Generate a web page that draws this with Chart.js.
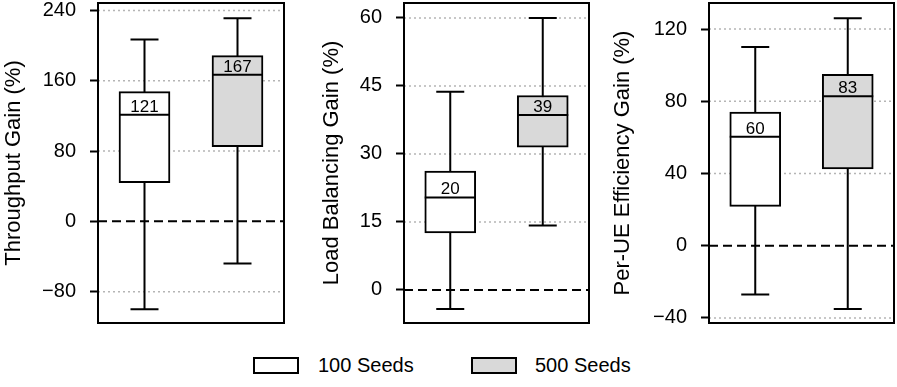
<!DOCTYPE html>
<html>
<head>
<meta charset="utf-8">
<script src="https://cdn.jsdelivr.net/npm/chart.js@4.4.0/dist/chart.umd.min.js"></script>
<style>
  body { margin: 0; width: 897px; height: 387px; background: #fff; position: relative; overflow: hidden;
         font-family: "Liberation Sans", Arial, sans-serif; }
  .panel { position: absolute; top: 0; height: 326px; }
  .swatch { position: absolute; top: 357px; width: 46px; height: 17px; box-sizing: border-box; border: 2px solid #000; }
  .label { position: absolute; top: 354px; font-size: 20px; line-height: 22px; color: #000; white-space: nowrap; }
</style>
</head>
<body>
<div class="panel" style="left:0;width:286px"><canvas id="throughput"></canvas></div>
<div class="panel" style="left:318px;width:273px"><canvas id="loadBalancing"></canvas></div>
<div class="panel" style="left:609px;width:287px"><canvas id="efficiency"></canvas></div>

<div class="swatch" style="left:253px;background:#ffffff"></div>
<span class="label" style="left:318px">100 Seeds</span>
<div class="swatch" style="left:471px;background:#d9d9d9"></div>
<span class="label" style="left:535px">500 Seeds</span>

<script>
// groups (one box per group in each panel)
const seedGroups = ['100 Seeds', '500 Seeds'];
const boxColors = ['#ffffff', '#d9d9d9'];

// Throughput Gain (%)
const throughputMin = [-100, -48];
const throughputQ1 = [44, 85];
const throughputMedian = [121.3, 166.7];
const throughputQ3 = [147.5, 188.5];
const throughputMax = [207, 231];
const throughputTicks = [-80, 0, 80, 160, 240];

// Load Balancing Gain (%)
const loadMin = [-4.2, 14.2];
const loadQ1 = [12.6, 31.5];
const loadMedian = [20.4, 38.6];
const loadQ3 = [26.2, 42.9];
const loadMax = [43.7, 60];
const loadTicks = [0, 15, 30, 45, 60];

// Per-UE Efficiency Gain (%)
const effMin = [-27, -35];
const effQ1 = [21.8, 42.5];
const effMedian = [60.4, 82.7];
const effQ3 = [74, 94.9];
const effMax = [110, 126];
const effTicks = [-40, 0, 40, 80, 120];

// draws grid, whiskers, medians and the frame around the plot area
const boxPlotPlugin = {
    id: 'boxPlot',
    beforeDatasetsDraw(chart) {
        const { ctx, chartArea: a, scales: { y } } = chart;
        const ds = chart.data.datasets[0];
        ctx.save();
        y.ticks.forEach(t => {
            const py = y.getPixelForValue(t.value);
            ctx.beginPath();
            if (t.value === 0) {
                ctx.setLineDash([9, 5]);
                ctx.strokeStyle = '#000';
                ctx.lineWidth = 2;
            } else {
                ctx.setLineDash([2, 3]);
                ctx.strokeStyle = '#b5b5b5';
                ctx.lineWidth = 1.5;
            }
            ctx.moveTo(a.left, py);
            ctx.lineTo(a.right, py);
            ctx.stroke();
        });
        ctx.setLineDash([]);
        ctx.strokeStyle = '#000';
        ctx.lineWidth = 2;
        chart.getDatasetMeta(0).data.forEach((bar, i) => {
            const lo = y.getPixelForValue(ds.whiskerLow[i]);
            const hi = y.getPixelForValue(ds.whiskerHigh[i]);
            const cap = 14;
            ctx.beginPath();
            ctx.moveTo(bar.x, lo); ctx.lineTo(bar.x, hi);
            ctx.moveTo(bar.x - cap, lo); ctx.lineTo(bar.x + cap, lo);
            ctx.moveTo(bar.x - cap, hi); ctx.lineTo(bar.x + cap, hi);
            ctx.stroke();
        });
        ctx.restore();
    },
    afterDatasetsDraw(chart) {
        const { ctx, chartArea: a, scales: { y } } = chart;
        const ds = chart.data.datasets[0];
        ctx.save();
        ctx.strokeStyle = '#000';
        ctx.lineWidth = 2;
        chart.getDatasetMeta(0).data.forEach((bar, i) => {
            const my = y.getPixelForValue(ds.median[i]);
            const half = bar.width / 2;
            ctx.beginPath();
            ctx.moveTo(bar.x - half, my);
            ctx.lineTo(bar.x + half, my);
            ctx.stroke();
            ctx.fillStyle = '#000';
            ctx.font = '17px "Liberation Sans", Arial, sans-serif';
            ctx.textAlign = 'center';
            ctx.textBaseline = 'alphabetic';
            ctx.fillText(String(Math.round(ds.median[i])), bar.x, my - 3);
        });
        ctx.strokeRect(a.left, a.top, a.right - a.left, a.bottom - a.top);
        ctx.restore();
    }
};

function makeBoxChart(id, title, lo, q1, med, q3, hi, ticks, yMin, yMax, axisWidth) {
    const ctx = document.getElementById(id).getContext('2d');
    return new Chart(ctx, {
        type: 'bar',
        data: {
            labels: seedGroups,
            datasets: [{
                data: q1.map((v, i) => [v, q3[i]]),
                whiskerLow: lo,
                whiskerHigh: hi,
                median: med,
                backgroundColor: boxColors,
                borderColor: '#000',
                borderWidth: 2,
                borderSkipped: false,
                barThickness: 51
            }]
        },
        options: {
            responsive: true,
            maintainAspectRatio: false,
            animation: false,
            layout: { padding: { top: 3, bottom: 3, right: 2, left: 0 } },
            plugins: {
                legend: { display: false },
                tooltip: { enabled: false }
            },
            scales: {
                x: { display: false, offset: true },
                y: {
                    min: yMin,
                    max: yMax,
                    afterBuildTicks: s => { s.ticks = ticks.map(v => ({ value: v })); },
                    afterFit: s => {
                        s.width = axisWidth;
                        s.paddingTop = 0;
                        s.paddingBottom = 0;
                    },
                    border: { display: false },
                    grid: {
                        drawOnChartArea: false,
                        drawTicks: true,
                        tickLength: 8,
                        tickColor: '#000',
                        tickWidth: 2
                    },
                    ticks: {
                        color: '#000',
                        padding: 14,
                        font: { size: 20, family: '"Liberation Sans", Arial, sans-serif' },
                        callback: v => v < 0 ? '\u2212' + Math.abs(v) : String(v)
                    },
                    title: {
                        display: true,
                        text: title,
                        color: '#000',
                        padding: { top: 1, bottom: 0 },
                        font: { size: 22, family: '"Liberation Sans", Arial, sans-serif' }
                    }
                }
            }
        },
        plugins: [boxPlotPlugin]
    });
}

makeBoxChart('throughput', 'Throughput Gain (%)', throughputMin, throughputQ1, throughputMedian,
    throughputQ3, throughputMax, throughputTicks, -115.6, 248.4, 98);
makeBoxChart('loadBalancing', 'Load Balancing Gain (%)', loadMin, loadQ1, loadMedian,
    loadQ3, loadMax, loadTicks, -7.3, 63.3, 86);
makeBoxChart('efficiency', 'Per-UE Efficiency Gain (%)', effMin, effQ1, effMedian,
    effQ3, effMax, effTicks, -42.8, 134.4, 100);
</script>
</body>
</html>
